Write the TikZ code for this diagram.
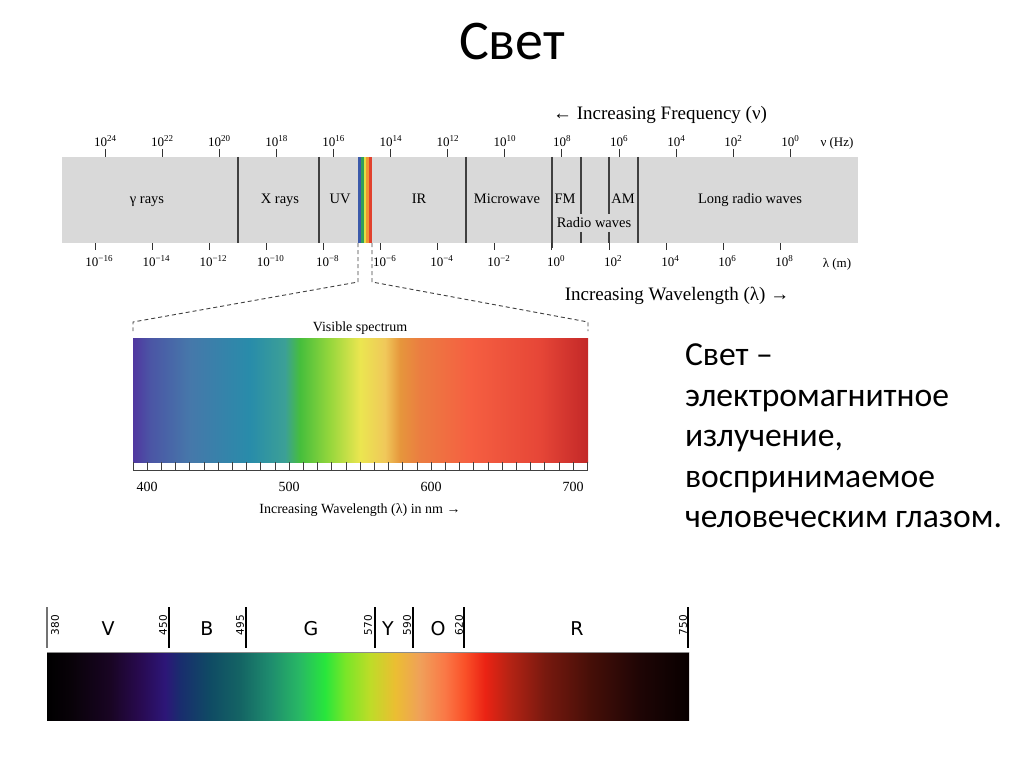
\documentclass[tikz,border=0pt]{standalone}
\usepackage{fontspec}
\setmainfont{Liberation Serif}
\newfontfamily\slidefont{Carlito}
\newfontfamily\dvfont{DejaVu Sans}
\definecolor{bandgray}{RGB}{217,217,217}
\definecolor{sb}{RGB}{60,90,170}
\definecolor{sg}{RGB}{50,160,90}
\definecolor{sy}{RGB}{225,225,70}
\definecolor{so}{RGB}{240,150,50}
\definecolor{sr}{RGB}{225,65,45}
% visible spectrum colours
\definecolor{v1}{RGB}{80,55,160}
\definecolor{v2}{RGB}{75,85,165}
\definecolor{v3}{RGB}{70,120,170}
\definecolor{v4}{RGB}{40,140,170}
\definecolor{v5}{RGB}{60,160,150}
\definecolor{v6}{RGB}{70,190,60}
\definecolor{v7}{RGB}{150,215,60}
\definecolor{v8}{RGB}{235,230,80}
\definecolor{v9}{RGB}{240,200,90}
\definecolor{v10}{RGB}{230,150,60}
\definecolor{v11}{RGB}{235,125,65}
\definecolor{v12}{RGB}{245,95,65}
\definecolor{v13}{RGB}{230,70,55}
\definecolor{v14}{RGB}{195,40,40}
% bottom spectrum colours
\definecolor{b1}{RGB}{0,0,0}
\definecolor{b2}{RGB}{8,2,8}
\definecolor{b3}{RGB}{25,5,35}
\definecolor{b4}{RGB}{40,10,80}
\definecolor{b5}{RGB}{45,22,120}
\definecolor{b6}{RGB}{25,45,110}
\definecolor{b7}{RGB}{15,75,100}
\definecolor{b8}{RGB}{20,100,100}
\definecolor{b9}{RGB}{30,140,110}
\definecolor{b10}{RGB}{40,185,100}
\definecolor{b11}{RGB}{40,230,60}
\definecolor{b12}{RGB}{120,230,40}
\definecolor{b13}{RGB}{190,220,40}
\definecolor{b14}{RGB}{235,190,50}
\definecolor{b15}{RGB}{240,160,90}
\definecolor{b16}{RGB}{250,120,70}
\definecolor{b17}{RGB}{250,80,40}
\definecolor{b18}{RGB}{235,35,20}
\definecolor{b19}{RGB}{180,35,20}
\definecolor{b20}{RGB}{120,25,15}
\definecolor{b21}{RGB}{70,15,8}
\definecolor{b22}{RGB}{30,5,5}
\definecolor{b23}{RGB}{8,0,0}
\pgfdeclarehorizontalshading{visspec}{100bp}{color(0bp)=(v1); color(25bp)=(v1); color(26.87bp)=(v2); color(31.26bp)=(v3); color(37.86bp)=(v4); color(41.7bp)=(v5); color(43.35bp)=(v6); color(46.65bp)=(v7); color(49.95bp)=(v8); color(52.69bp)=(v9); color(54.34bp)=(v10); color(56.54bp)=(v11); color(62.03bp)=(v12); color(69.73bp)=(v13); color(75bp)=(v14); color(100bp)=(v14)}
\pgfdeclarehorizontalshading{botspec}{100bp}{color(0bp)=(b1); color(25bp)=(b1); color(26.79bp)=(b2); color(29.91bp)=(b3); color(32.24bp)=(b4); color(34.19bp)=(b5); color(35.36bp)=(b6); color(37.69bp)=(b7); color(40.03bp)=(b8); color(42.37bp)=(b9); color(44.7bp)=(b10); color(46.65bp)=(b11); color(48.21bp)=(b12); color(50.16bp)=(b13); color(52.1bp)=(b14); color(54.05bp)=(b15); color(56bp)=(b16); color(57.55bp)=(b17); color(59.11bp)=(b18); color(61.05bp)=(b19); color(63.79bp)=(b20); color(67.29bp)=(b21); color(71.18bp)=(b22); color(75bp)=(b23); color(100bp)=(b23)}
\newcommand\expo[1]{\raisebox{0.42em}{\fontsize{9}{9}\selectfont#1}}
\begin{document}
\begin{tikzpicture}[x=1pt,y=-1pt,every node/.style={inner sep=0pt,outer sep=0pt}]
\tikzset{
 bandlbl/.style={font=\fontsize{14.5}{16}\selectfont,anchor=base},
 ticklbl/.style={font=\fontsize{13}{15}\selectfont,anchor=base},
 tickln/.style={draw=black!80,line width=0.8pt},
 divider/.style={draw=black!75,line width=1.6pt},
 dashln/.style={draw=black!75,line width=0.9pt,dash pattern=on 4pt off 3pt},
 vline/.style={draw=black,line width=1.3pt},
 rotnum/.style={font=\dvfont\fontsize{10.5}{11}\selectfont,rotate=90},
 colletter/.style={font=\dvfont\fontsize{19}{20}\selectfont,anchor=base},
}
\useasboundingbox[fill=white] (0,0) rectangle (1024,767);
% title
\node[font=\slidefont\fontsize{56}{62}\selectfont,anchor=base] (title) at (512,60) {Свет};
% band
\fill[bandgray] (62,157) rectangle (858,243);
\foreach \c [count=\i from 0] in {sb,sg,sy,so,sr}
  \fill[\c] (358+2.8*\i,157) rectangle (360.8+2.8*\i,243);
\foreach \xx in {238,319,466,638}
  \draw[divider] (\xx,157) -- (\xx,243);
\draw[divider] (552,157) -- (552,248);
\foreach \xx in {581,609}{
  \draw[divider] (\xx,157) -- (\xx,214);
  \draw[divider] (\xx,232) -- (\xx,243);
}
% frequency ticks
\foreach \k in {0,...,12}{
  \pgfmathsetmacro\xx{105+57.1*\k}
  \pgfmathtruncatemacro\ee{24-2*\k}
  \draw[tickln] (\xx,149) -- (\xx,157);
  \node[ticklbl] (f\k) at (\xx,146.7) {10\expo{\ee}};
}
% wavelength ticks
\foreach \k in {0,...,12}{
  \pgfmathsetmacro\xx{95+57.1*\k}
  \pgfmathtruncatemacro\ee{2*\k-16}
  \pgfmathtruncatemacro\ea{abs(\ee)}
  \draw[tickln] (\xx,243) -- (\xx,250);
  \node[ticklbl] (w\k) at (\xx+4,266.7) {10\expo{\ifnum\ee<0 −\fi\ea}};
}
\node[ticklbl] (nuhz) at (837,146.7) {ν (Hz)};
\node[ticklbl] (lamm) at (837,267.7) {λ (m)};
\node[font=\fontsize{19}{21}\selectfont,anchor=base] (incf) at (660,120) {← Increasing Frequency (ν)};
\node[font=\fontsize{19}{21}\selectfont,anchor=base] (incw) at (677,300) {Increasing Wavelength (λ) →};
% band labels
\node[bandlbl] (gam) at (147,204) {γ rays};
\node[bandlbl] (xr) at (280,204) {X rays};
\node[bandlbl] (uv) at (340,204) {UV};
\node[bandlbl] (ir) at (419,204) {IR};
\node[bandlbl] (mw) at (507,204) {Microwave};
\node[bandlbl] (fm) at (565,204) {FM};
\node[bandlbl] (am) at (623,204) {AM};
\node[bandlbl] (rw) at (594,228) {Radio waves};
\node[bandlbl] (lrw) at (750,204) {Long radio waves};
% dashed zoom lines
\coordinate (sl) at (358,243);
\coordinate (sr) at (372,243);
\coordinate (slk) at (358,282);
\coordinate (srk) at (372,282);
\coordinate (vl) at (133,322);
\coordinate (vr) at (588,322);
\coordinate (vle) at (133,331);
\coordinate (vre) at (588,331);
\draw[dashln] (sl) -- (slk) -- (vl) -- (vle);
\draw[dashln] (sr) -- (srk) -- (vr) -- (vre);
\node[font=\fontsize{14}{16}\selectfont,anchor=base] (vis) at (360,331.7) {Visible spectrum};
% visible spectrum
\fill[shading=visspec] (133,338) rectangle (588,462);
\draw[black!75,line width=0.8pt] (133,470) -- (588,470);
\foreach \k in {0,...,32}
  \draw[black!75,line width=0.8pt] (133+14.2*\k,462) -- (133+14.2*\k,470);
\foreach \v/\xx in {400/147,500/289,600/431,700/573}
  \node[ticklbl,font=\fontsize{14}{16}\selectfont] (nm\v) at (\xx,491.7) {\v};
\node[font=\fontsize{14}{16}\selectfont,anchor=base] (incnm) at (360,513) {Increasing Wavelength (λ) in nm →};
% description
\node[anchor=north west,align=left,font=\slidefont\fontsize{33.6}{40.5}\selectfont] (desc) at (685,344) {Свет –\\электромагнитное\\излучение,\\воспринимаемое\\человеческим глазом.};
% bottom spectrum
\fill[shading=botspec] (47,652) rectangle (689,720);
\draw[black!45,line width=0.8pt] (47,652) -- (689,652);
\draw[vline,black!55] (47,607) -- (47,648);
\foreach \xx in {169,246,375,413,464,688}
  \draw[vline] (\xx,607) -- (\xx,648);
\node[rotnum] (n380) at (55,625) {380};
\node[rotnum] (n450) at (163,625) {450};
\node[rotnum] (n495) at (240,625) {495};
\node[rotnum] (n570) at (368,625) {570};
\node[rotnum] (n590) at (407,625) {590};
\node[rotnum] (n620) at (459,625) {620};
\node[rotnum] (n750) at (683,625) {750};
\node[colletter] (lv) at (108,635) {V};
\node[colletter] (lb) at (207,635) {B};
\node[colletter] (lg) at (311,635) {G};
\node[colletter] (ly) at (388,635) {Y};
\node[colletter] (lo) at (438,635) {O};
\node[colletter] (lr) at (577,635) {R};
\end{tikzpicture}
\end{document}
